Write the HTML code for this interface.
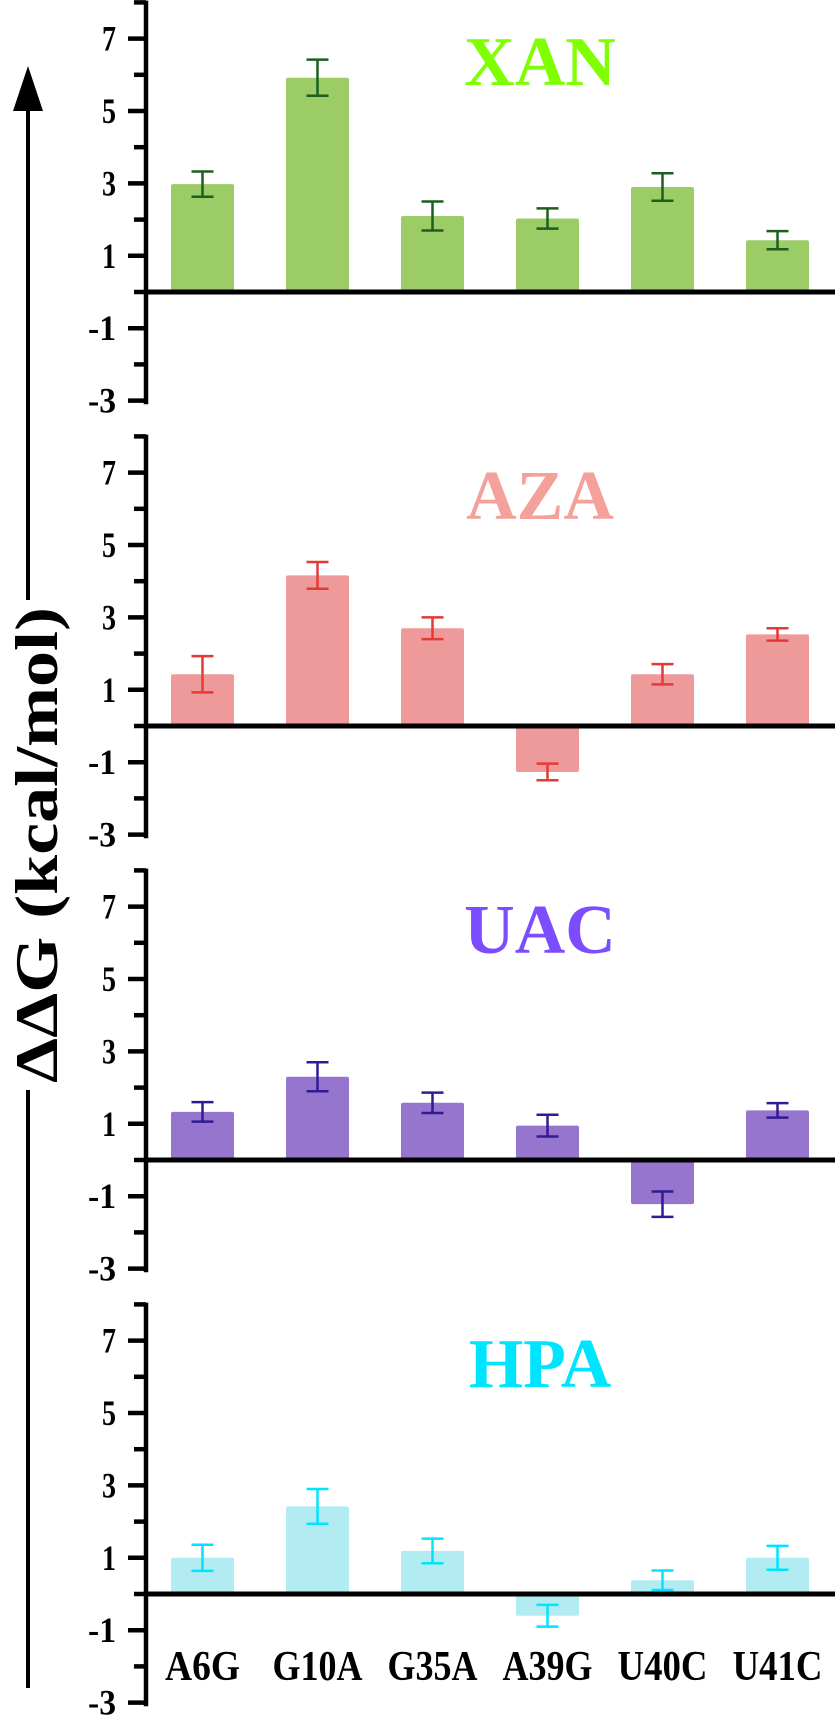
<!DOCTYPE html>
<html><head><meta charset="utf-8"><style>
html,body{margin:0;padding:0;background:#fff;}
svg{display:block;}
text{font-family:"Liberation Serif",serif;font-weight:bold;}
</style></head><body>
<svg id="chart" width="835" height="1718" viewBox="0 0 835 1718" xmlns="http://www.w3.org/2000/svg">
<g id="ylab">
<line x1="28" y1="105" x2="28" y2="600" stroke="#000" stroke-width="4"/>
<polygon points="28,66 13,111 43,111" fill="#000"/>
<line x1="28" y1="1090" x2="28" y2="1688" stroke="#000" stroke-width="4"/>
<text transform="translate(57,845) rotate(-90)" text-anchor="middle" font-size="60" textLength="476" lengthAdjust="spacingAndGlyphs">ΔΔG (kcal/mol)</text>
</g>
<g id="panels"></g>
</svg>
<script>
const categories = ["A6G","G10A","G35A","A39G","U40C","U41C"];
const panelNames = ["XAN","AZA","UAC","HPA"];
const xanValues = [2.98, 5.92, 2.10, 2.03, 2.90, 1.43];
const xanErrors = [0.35, 0.50, 0.40, 0.28, 0.38, 0.25];
const azaValues = [1.43, 4.16, 2.70, -1.27, 1.43, 2.53];
const azaErrors = [0.50, 0.37, 0.30, 0.23, 0.28, 0.17];
const uacValues = [1.33, 2.30, 1.58, 0.95, -1.22, 1.37];
const uacErrors = [0.27, 0.40, 0.28, 0.30, 0.35, 0.20];
const hpaValues = [1.00, 2.42, 1.19, -0.60, 0.38, 1.00];
const hpaErrors = [0.36, 0.48, 0.34, 0.30, 0.27, 0.33];
const tickLabels = [7, 5, 3, 1, -1, -3];

const seriesValues = [xanValues, azaValues, uacValues, hpaValues];
const seriesErrors = [xanErrors, azaErrors, uacErrors, hpaErrors];
const styles = [
  {title:"#7fff00", bar:"#9ccc65", err:"#1b5e20"},
  {title:"#f4a09b", bar:"#ef9a9a", err:"#e53935"},
  {title:"#7c4dff", bar:"#9575cd", err:"#311b92"},
  {title:"#00e5ff", bar:"#b2ebf2", err:"#00e5ff"}
];
const NS = "http://www.w3.org/2000/svg";
const root = document.getElementById("panels");
const AX = 146, UNIT = 36.2, BW = 63;
function xCenter(i){ return 202.5 + i*115; }
function mk(tag, attrs, parent){
  const e = document.createElementNS(NS, tag);
  for (const k in attrs) e.setAttribute(k, attrs[k]);
  parent.appendChild(e);
  return e;
}
panelNames.forEach((name, p) => {
  const zero = 292 + p*434;
  const y = v => zero - v*UNIT;
  const g = mk("g", {}, root);
  
  
  const ax = mk("line", {x1:AX, y1:y(8.05), x2:AX, y2:y(-3.1), stroke:"#000", "stroke-width":4.5}, g);
  
  
  for (let v = 8; v >= -3; v--) {
    const major = tickLabels.includes(v);
    const t = mk("line", {x1: AX - (major?18:12), y1:y(v), x2:AX, y2:y(v), stroke:"#000", "stroke-width":4.5}, g);
    
    
  }
  tickLabels.forEach(v => {
    const s = String(v);
    const tl = mk("text", {x:116, y:y(v)+12, "text-anchor":"end", "font-size":36, textLength: s.length*14, lengthAdjust:"spacingAndGlyphs"}, g);
    tl.textContent = s;
    
    
  });
  const vals = seriesValues[p], errs = seriesErrors[p], st = styles[p];
  vals.forEach((v, i) => {
    const cx = xCenter(i);
    const top = Math.min(y(v), zero), h = Math.abs(y(v) - zero);
    const b = mk("rect", {x:cx-BW/2, y:top, width:BW, height:h, rx:2, fill:st.bar}, g);
    
    
  });
  const bl = mk("line", {x1:AX, y1:zero, x2:835, y2:zero, stroke:"#000", "stroke-width":5}, g);
  
  
  vals.forEach((v, i) => {
    const cx = xCenter(i);
    const eg = mk("g", {stroke:st.err, "stroke-width":2.5}, g);
    
    
    mk("line", {x1:cx, y1:y(v+errs[i]), x2:cx, y2:y(v-errs[i])}, eg);
    mk("line", {x1:cx-11, y1:y(v+errs[i]), x2:cx+11, y2:y(v+errs[i])}, eg);
    mk("line", {x1:cx-11, y1:y(v-errs[i]), x2:cx+11, y2:y(v-errs[i])}, eg);
  });
  const tt = mk("text", {x:540, y:zero-207, "text-anchor":"middle", "font-size":70, fill:st.title}, g);
  tt.textContent = name;
  
  
});
categories.forEach((c, i) => {
  const t = mk("text", {x:xCenter(i), y:1680, "text-anchor":"middle", "font-size":42, textLength: c.length === 3 ? 75 : 90, lengthAdjust:"spacingAndGlyphs"}, root);
  t.textContent = c;
  
  
});
</script>
</body></html>
